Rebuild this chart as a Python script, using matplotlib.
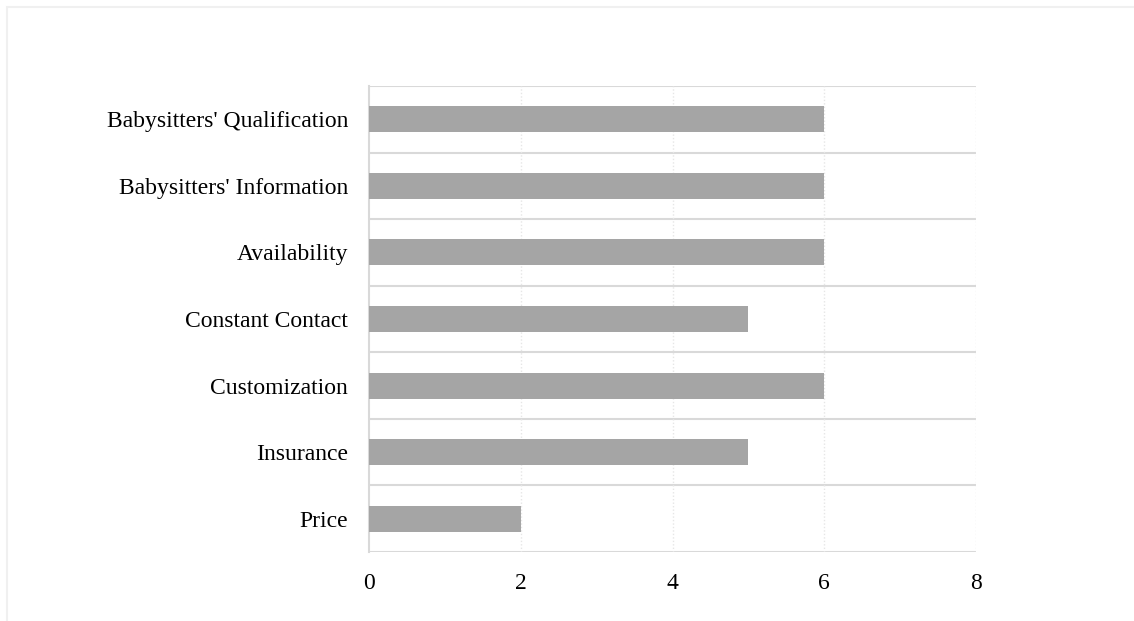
import matplotlib.pyplot as plt
from matplotlib.patches import Rectangle

categories = ["Price", "Insurance", "Customization", "Constant Contact",
              "Availability", "Babysitters' Information", "Babysitters' Qualification"]
values = [2, 5, 6, 5, 6, 6, 6]
x_ticks = [0, 2, 4, 6, 8]

plt.rcParams['font.family'] = ['Liberation Serif', 'DejaVu Serif']

fig = plt.figure(figsize=(11.34, 6.21), dpi=100)
ax = fig.add_axes([369 / 1134, 1 - 552 / 621, (976 - 369) / 1134, (552 - 86) / 621])

# faint outer frame of the chart container (only top and left visible)
fig.patches.append(Rectangle((7 / 1134, -0.1), 1.2, 1.1 - 7 / 621,
                             transform=fig.transFigure, fill=False,
                             edgecolor='#f0f0f0', linewidth=1.5))

ax.barh(range(len(categories)), values, height=0.39, color='#a5a5a5', zorder=3)

ax.set_xlim(0, 8)
ax.set_ylim(-0.5, len(categories) - 0.5)
ax.set_xticks(x_ticks)
ax.set_yticks(range(len(categories)))
ax.set_yticklabels(categories)

# horizontal separators between categories
for b in range(len(categories) + 1):
    ax.axhline(b - 0.5, color='#d9d9d9', linewidth=1.5, zorder=1)
# dotted vertical gridlines
for t in x_ticks[1:]:
    ax.axvline(t, color='#e6e6e6', linewidth=1, linestyle=(0, (1, 1.5)), zorder=1)

for s in ['top', 'right', 'bottom']:
    ax.spines[s].set_visible(False)
ax.spines['left'].set_color('#d9d9d9')
ax.spines['left'].set_linewidth(1.5)

ax.tick_params(axis='both', length=0, labelsize=17, colors='black')
ax.tick_params(axis='y', pad=15)
ax.tick_params(axis='x', pad=15)

fig.savefig("out.png", dpi=100)
